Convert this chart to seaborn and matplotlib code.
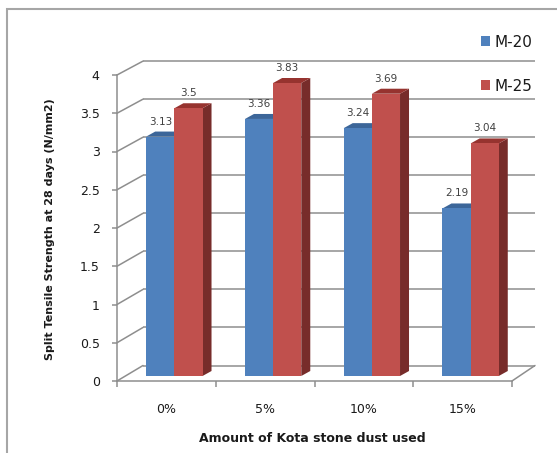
import matplotlib
matplotlib.use("Agg")
import matplotlib.pyplot as plt
import numpy as np
import pandas as pd
import seaborn as sns
from matplotlib.patches import Polygon, Rectangle, Patch

# ---- data ----
categories = ["0%", "5%", "10%", "15%"]
series = ["M-20", "M-25"]
m20_values = [3.13, 3.36, 3.24, 2.19]
m25_values = [3.50, 3.83, 3.69, 3.04]
y_ticks = [0, 0.5, 1, 1.5, 2, 2.5, 3, 3.5, 4]
y_tick_labels = ["0", "0.5", "1", "1.5", "2", "2.5", "3", "3.5", "4"]

df = pd.DataFrame({
    "category": categories * 2,
    "value": m20_values + m25_values,
    "series": [series[0]] * 4 + [series[1]] * 4,
})

front_colors = ["#4F81BD", "#C0504D"]
top_colors = ["#3C6699", "#96332F"]
side_colors = ["#345783", "#772C2A"]
grid_c = "#8E8E8E"
text_c = "#1a1a1a"

sns.set_theme(style="white")
plt.rcParams["font.family"] = ["DejaVu Sans"]

W, H, DPI = 557, 453, 100
fig = plt.figure(figsize=(W / DPI, H / DPI), dpi=DPI)
fig.patch.set_facecolor("white")

# front plane of the 3-D box in pixels
L, R, T, B = 117, 512, 75, 381
ax = fig.add_axes([L / W, 1 - B / H, (R - L) / W, (B - T) / H])
ax.set_facecolor("none")

px_x = (R - L) / 4.0
px_y = (B - T) / 4.0


def ddx(p):
    return p / px_x


def ddy(p):
    return p / px_y


sns.barplot(data=df, x="category", y="value", hue="series",
            order=categories, hue_order=series, palette=front_colors,
            width=0.57, saturation=1, ax=ax, legend=False,
            edgecolor="none", linewidth=0, zorder=3)
ax.set_xlim(-0.5, 3.5)
ax.set_ylim(0, 4)

# back wall: projected positions of the gridlines
def back_y(v):
    return (B - (365.5 - 76.1 * v)) / px_y


x_back_left = -0.5 + ddx(26)
x_back_right = 3.5 + ddx(23)

for v in y_ticks:
    by = back_y(v)
    ax.plot([x_back_left, x_back_right], [by, by], color=grid_c, lw=1.1,
            clip_on=False, zorder=0.5, solid_capstyle="butt")
    ax.plot([-0.5, x_back_left], [v, by], color=grid_c, lw=1.1,
            clip_on=False, zorder=0.5)
# right edge of the floor
ax.plot([3.5, x_back_right], [0, back_y(0)], color=grid_c, lw=1.1,
        clip_on=False, zorder=0.5)

# 3-D bars: shift the fronts into depth, add side and top faces
shift_x, shift_y = ddx(8), ddy(5)
depth_x, depth_y = ddx(9), ddy(5)
values_by_series = [m20_values, m25_values]
for si, cont in enumerate(ax.containers):
    for bi, bar in enumerate(cont):
        x0 = bar.get_x() + shift_x
        w = bar.get_width()
        h = bar.get_height()
        bar.set_x(x0)
        bar.set_y(shift_y)
        y0, y1 = shift_y, shift_y + h
        xr = x0 + w
        side = Polygon([(xr, y0), (xr + depth_x, y0 + depth_y),
                        (xr + depth_x, y1 + depth_y), (xr, y1)],
                       closed=True, facecolor=side_colors[si],
                       edgecolor="none", zorder=2, clip_on=False)
        top = Polygon([(x0, y1), (x0 + depth_x, y1 + depth_y),
                       (xr + depth_x, y1 + depth_y), (xr, y1)],
                      closed=True, facecolor=top_colors[si],
                      edgecolor="none", zorder=2, clip_on=False)
        ax.add_patch(side)
        ax.add_patch(top)
        ax.text(x0 + w / 2, y1 + ddy(10), f"{values_by_series[si][bi]:g}",
                ha="center", va="bottom", fontsize=7.5, color="#404040",
                zorder=5, clip_on=False)

# axes styling
for s in ["top", "right"]:
    ax.spines[s].set_visible(False)
for s in ["left", "bottom"]:
    ax.spines[s].set_color(grid_c)
    ax.spines[s].set_linewidth(1.1)
    ax.spines[s].set_zorder(0.6)

ax.set_yticks(y_ticks)
ax.set_yticklabels(y_tick_labels)
ax.tick_params(axis="y", which="major", direction="out", length=3.5,
               width=1.1, color=grid_c, pad=9, labelsize=9,
               labelcolor=text_c, left=True)
ax.set_xticks(range(len(categories)))
ax.set_xticklabels(categories)
ax.set_xticks(np.arange(-0.5, 4.0, 1.0), minor=True)
ax.tick_params(axis="x", which="major", length=0, pad=16, labelsize=9,
               labelcolor=text_c)
ax.tick_params(axis="x", which="minor", direction="out", length=4.5,
               width=1.1, color=grid_c, bottom=True)
ax.set_xlabel("")
ax.set_ylabel("")

# axis titles
fig.text(50 / W, 1 - 229 / H, "Split Tensile Strength at 28 days (N/mm2)",
         rotation=90, ha="center", va="center", fontsize=8.0,
         fontweight="bold", color=text_c)
fig.text(312 / W, 1 - 439 / H, "Amount of Kota stone dust used",
         ha="center", va="center", fontsize=9, fontweight="bold",
         color=text_c)

# legend
handles = [Patch(facecolor=c, edgecolor="none") for c in front_colors]
fig.legend(handles, series, loc="upper left",
           bbox_to_anchor=(467 / W, 1 - 21 / H), bbox_transform=fig.transFigure,
           frameon=False, handlelength=0.62, handleheight=0.62,
           handletextpad=0.3, labelspacing=1.9, fontsize=11,
           labelcolor=text_c)

# chart border
fig.patches.append(Rectangle((7 / W, -0.2), 1.5, 1.2 - 9 / H,
                             transform=fig.transFigure, fill=False,
                             edgecolor="#A6A6A6", lw=1.5, zorder=0))

fig.savefig("out.png", dpi=DPI)
